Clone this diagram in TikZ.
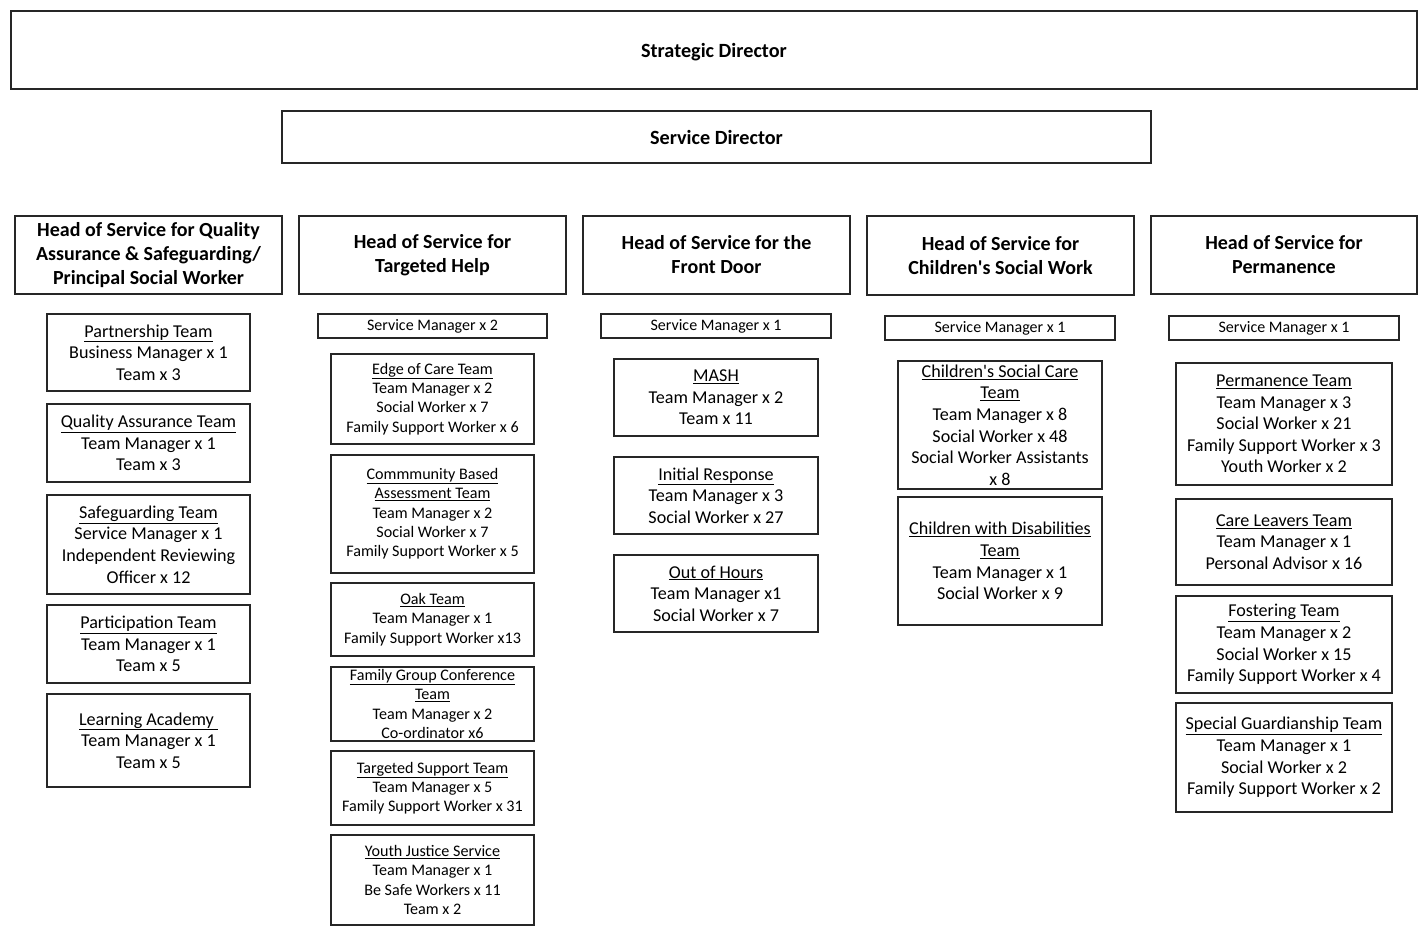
\documentclass[tikz,border=0pt]{standalone}
\usepackage{fontspec}
\setmainfont{Carlito}
\tikzset{
  box/.style={draw=black!85, line width=1.1pt, rectangle, align=center, inner sep=0pt},
  topfont/.style={font=\fontsize{20.2}{24}\selectfont\bfseries},
  headfont/.style={font=\fontsize{20}{24}\selectfont\bfseries},
  teamfont/.style={font=\fontsize{18.1}{21.6}\selectfont},
  smallfont/.style={font=\fontsize{16.1}{19.3}\selectfont},
  smfont/.style={font=\fontsize{16}{19}\selectfont},
}
\newcommand{\ul}[1]{\underline{#1}}
\newcommand{\apos}{\textquotesingle}
\begin{document}
\begin{tikzpicture}[x=1pt,y=-1pt]
\useasboundingbox (0,0) rectangle (1426,936);
% top
\node[box,topfont,minimum width=1406pt,minimum height=78pt,text depth=0pt] (sd) at (714,50) {Strategic Director};
\node[box,topfont,minimum width=869pt,minimum height=52pt] (svd) at (716.5,137) {Service Director};
% heads
\node[box,headfont,minimum width=267pt,minimum height=78pt] (h1) at (148.5,255) {Head of Service for Quality\\Assurance \& Safeguarding/\\Principal Social Worker};
\node[box,headfont,minimum width=267pt,minimum height=78pt] (h2) at (432.5,255) {Head of Service for\\Targeted Help};
\node[box,headfont,minimum width=267pt,minimum height=78pt] (h3) at (716.5,255) {Head of Service for the\\Front Door};
\node[box,headfont,minimum width=267pt,minimum height=79pt] (h4) at (1000.5,255.5) {Head of Service for\\Children\apos s Social Work};
\node[box,headfont,minimum width=266pt,minimum height=78pt] (h5) at (1284,255) {Head of Service for\\Permanence};
% column 1
\node[box,teamfont,minimum width=203pt,minimum height=77pt] (p1) at (148.5,352.5) {\ul{Partnership Team}\\Business Manager x 1\\Team x 3};
\node[box,teamfont,minimum width=203pt,minimum height=78pt] (p2) at (148.5,443) {\ul{Quality Assurance Team}\\Team Manager x 1\\Team x 3};
\node[box,teamfont,minimum width=203pt,minimum height=99pt] (p3) at (148.5,544.5) {\ul{Safeguarding Team}\\Service Manager x 1\\Independent Reviewing\\Officer x 12};
\node[box,teamfont,minimum width=203pt,minimum height=78pt] (p4) at (148.5,644) {\ul{Participation Team}\\Team Manager x 1\\Team x 5};
\node[box,teamfont,minimum width=203pt,minimum height=93pt] (p5) at (148.5,740.5) {\ul{Learning Academy\ }\\Team Manager x 1\\Team x 5};
% column 2
\node[box,smfont,minimum width=229pt,minimum height=24pt] (sm2) at (432.5,326) {Service Manager x 2};
\node[box,smallfont,minimum width=203pt,minimum height=90pt] (e1) at (432.5,399) {\ul{Edge of Care Team}\\Team Manager x 2\\Social Worker x 7\\Family Support Worker x 6};
\node[box,smallfont,minimum width=203pt,minimum height=118pt] (e2) at (432.5,514) {\ul{Commmunity Based}\\\ul{Assessment Team}\\Team Manager x 2\\Social Worker x 7\\Family Support Worker x 5};
\node[box,smallfont,minimum width=203pt,minimum height=73pt] (e3) at (432.5,619.5) {\ul{Oak Team}\\Team Manager x 1\\Family Support Worker x13};
\node[box,smallfont,minimum width=203pt,minimum height=74pt] (e4) at (432.5,704) {\ul{Family Group Conference}\\\ul{Team}\\Team Manager x 2\\Co-ordinator x6};
\node[box,smallfont,minimum width=203pt,minimum height=74pt] (e5) at (432.5,788) {\ul{Targeted Support Team}\\Team Manager x 5\\Family Support Worker x 31};
\node[box,smallfont,minimum width=203pt,minimum height=90pt] (e6) at (432.5,880) {\ul{Youth Justice Service}\\Team Manager x 1\\Be Safe Workers x 11\\Team x 2};
% column 3
\node[box,smfont,minimum width=230pt,minimum height=24pt] (sm3) at (716,326) {Service Manager x 1};
\node[box,teamfont,minimum width=204pt,minimum height=77pt] (m1) at (716,397.5) {\ul{MASH}\\Team Manager x 2\\Team x 11};
\node[box,teamfont,minimum width=204pt,minimum height=77pt] (m2) at (716,495.5) {\ul{Initial Response}\\Team Manager x 3\\Social Worker x 27};
\node[box,teamfont,minimum width=204pt,minimum height=77pt] (m3) at (716,593.5) {\ul{Out of Hours}\\Team Manager x1\\Social Worker x 7};
% column 4
\node[box,smfont,minimum width=230pt,minimum height=24pt] (sm4) at (1000,328) {Service Manager x 1};
\node[box,teamfont,minimum width=204pt,minimum height=128pt] (c1) at (1000,425) {\ul{Children\apos s Social Care}\\\ul{Team}\\Team Manager x 8\\Social Worker x 48\\Social Worker Assistants\\x 8};
\node[box,teamfont,minimum width=204pt,minimum height=128pt] (c2) at (1000,561) {\ul{Children with Disabilities}\\\ul{Team}\\Team Manager x 1\\Social Worker x 9};
% column 5
\node[box,smfont,minimum width=230pt,minimum height=24pt] (sm5) at (1284,328) {Service Manager x 1};
\node[box,teamfont,minimum width=216pt,minimum height=122pt] (f1) at (1284,424) {\ul{Permanence Team}\\Team Manager x 3\\Social Worker x 21\\Family Support Worker x 3\\Youth Worker x 2};
\node[box,teamfont,minimum width=216pt,minimum height=86pt] (f2) at (1284,542) {\ul{Care Leavers Team}\\Team Manager x 1\\Personal Advisor x 16};
\node[box,teamfont,minimum width=216pt,minimum height=97pt] (f3) at (1284,644.5) {\ul{Fostering Team}\\Team Manager x 2\\Social Worker x 15\\Family Support Worker x 4};
\node[box,teamfont,minimum width=216pt,minimum height=109pt] (f4) at (1284,757.5) {\ul{Special Guardianship Team}\\Team Manager x 1\\Social Worker x 2\\Family Support Worker x 2};
\end{tikzpicture}
\end{document}
